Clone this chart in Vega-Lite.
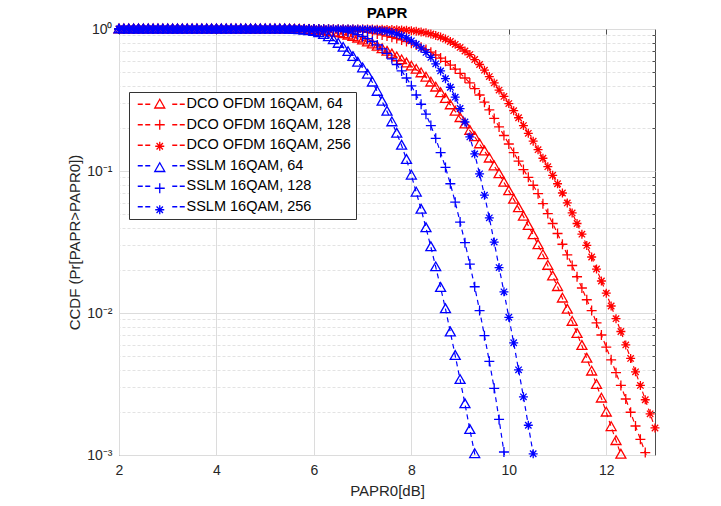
{
"$schema": "https://vega.github.io/schema/vega-lite/v6.json",
"width": 536, "height": 426,
"autosize": {"type": "none"},
"padding": {"left": 119, "top": 29, "right": 66, "bottom": 51},
"background": "white",
"config": {"view": {"stroke": "#4d4d4d", "strokeWidth": 1}},
"title": {"text": "PAPR", "font": "Liberation Sans", "fontSize": 15, "fontWeight": "bold", "color": "#000000", "offset": 0, "anchor": "middle"},
"data": {"values": [
{"s":"D64","x":2,"y":1},{"s":"D64","x":2.1,"y":1},{"s":"D64","x":2.2,"y":1},{"s":"D64","x":2.3,"y":1},{"s":"D64","x":2.4,"y":1},{"s":"D64","x":2.5,"y":1},{"s":"D64","x":2.6,"y":1},{"s":"D64","x":2.7,"y":1},{"s":"D64","x":2.8,"y":1},{"s":"D64","x":2.9,"y":1},
{"s":"D64","x":3,"y":1},{"s":"D64","x":3.1,"y":1},{"s":"D64","x":3.2,"y":1},{"s":"D64","x":3.3,"y":1},{"s":"D64","x":3.4,"y":1},{"s":"D64","x":3.5,"y":1},{"s":"D64","x":3.6,"y":1},{"s":"D64","x":3.7,"y":1},{"s":"D64","x":3.8,"y":1},{"s":"D64","x":3.9,"y":1},
{"s":"D64","x":4,"y":1},{"s":"D64","x":4.1,"y":1},{"s":"D64","x":4.2,"y":1},{"s":"D64","x":4.3,"y":1},{"s":"D64","x":4.4,"y":1},{"s":"D64","x":4.5,"y":1},{"s":"D64","x":4.6,"y":1},{"s":"D64","x":4.7,"y":1},{"s":"D64","x":4.8,"y":1},{"s":"D64","x":4.9,"y":1},
{"s":"D64","x":5,"y":1},{"s":"D64","x":5.1,"y":1},{"s":"D64","x":5.2,"y":1},{"s":"D64","x":5.3,"y":1},{"s":"D64","x":5.4,"y":1},{"s":"D64","x":5.5,"y":0.9977},{"s":"D64","x":5.6,"y":0.9954},{"s":"D64","x":5.7,"y":0.9931},{"s":"D64","x":5.8,"y":0.9908},{"s":"D64","x":5.9,"y":0.9886},
{"s":"D64","x":6,"y":0.984},{"s":"D64","x":6.1,"y":0.9772},{"s":"D64","x":6.2,"y":0.9705},{"s":"D64","x":6.3,"y":0.9616},{"s":"D64","x":6.4,"y":0.9506},{"s":"D64","x":6.5,"y":0.9376},{"s":"D64","x":6.6,"y":0.9226},{"s":"D64","x":6.7,"y":0.9036},{"s":"D64","x":6.8,"y":0.8831},{"s":"D64","x":6.9,"y":0.861},
{"s":"D64","x":7,"y":0.8356},{"s":"D64","x":7.1,"y":0.8091},{"s":"D64","x":7.2,"y":0.7816},{"s":"D64","x":7.3,"y":0.7534},{"s":"D64","x":7.4,"y":0.7244},{"s":"D64","x":7.5,"y":0.695},{"s":"D64","x":7.6,"y":0.6653},{"s":"D64","x":7.7,"y":0.6353},{"s":"D64","x":7.8,"y":0.6053},{"s":"D64","x":7.9,"y":0.5754},
{"s":"D64","x":8,"y":0.547},{"s":"D64","x":8.1,"y":0.5188},{"s":"D64","x":8.2,"y":0.4898},{"s":"D64","x":8.3,"y":0.4571},{"s":"D64","x":8.4,"y":0.4217},{"s":"D64","x":8.5,"y":0.389},{"s":"D64","x":8.6,"y":0.3548},{"s":"D64","x":8.7,"y":0.3236},{"s":"D64","x":8.8,"y":0.2917},{"s":"D64","x":8.9,"y":0.263},
{"s":"D64","x":9,"y":0.2371},{"s":"D64","x":9.1,"y":0.2138},{"s":"D64","x":9.2,"y":0.1928},{"s":"D64","x":9.3,"y":0.1738},{"s":"D64","x":9.4,"y":0.1549},{"s":"D64","x":9.5,"y":0.138},{"s":"D64","x":9.6,"y":0.123},{"s":"D64","x":9.7,"y":0.1084},{"s":"D64","x":9.8,"y":0.0955},{"s":"D64","x":9.9,"y":0.0832},
{"s":"D64","x":10,"y":0.0724},{"s":"D64","x":10.1,"y":0.0631},{"s":"D64","x":10.2,"y":0.055},{"s":"D64","x":10.3,"y":0.0479},{"s":"D64","x":10.4,"y":0.0412},{"s":"D64","x":10.5,"y":0.0355},{"s":"D64","x":10.6,"y":0.0302},{"s":"D64","x":10.7,"y":0.0257},{"s":"D64","x":10.8,"y":0.0216},{"s":"D64","x":10.9,"y":0.0182},
{"s":"D64","x":11,"y":0.0153},{"s":"D64","x":11.1,"y":0.0127},{"s":"D64","x":11.2,"y":0.0106},{"s":"D64","x":11.3,"y":0.00871},{"s":"D64","x":11.4,"y":0.00716},{"s":"D64","x":11.5,"y":0.00589},{"s":"D64","x":11.6,"y":0.00479},{"s":"D64","x":11.7,"y":0.00389},{"s":"D64","x":11.8,"y":0.00313},{"s":"D64","x":11.9,"y":0.00251},
{"s":"D64","x":12,"y":0.002},{"s":"D64","x":12.1,"y":0.00158},{"s":"D64","x":12.2,"y":0.00126},{"s":"D64","x":12.3,"y":0.00101},{"s":"D64","x":12.4,"y":0.00079},

{"s":"D128","x":2,"y":1},{"s":"D128","x":2.1,"y":1},{"s":"D128","x":2.2,"y":1},{"s":"D128","x":2.3,"y":1},{"s":"D128","x":2.4,"y":1},{"s":"D128","x":2.5,"y":1},{"s":"D128","x":2.6,"y":1},{"s":"D128","x":2.7,"y":1},{"s":"D128","x":2.8,"y":1},{"s":"D128","x":2.9,"y":1},
{"s":"D128","x":3,"y":1},{"s":"D128","x":3.1,"y":1},{"s":"D128","x":3.2,"y":1},{"s":"D128","x":3.3,"y":1},{"s":"D128","x":3.4,"y":1},{"s":"D128","x":3.5,"y":1},{"s":"D128","x":3.6,"y":1},{"s":"D128","x":3.7,"y":1},{"s":"D128","x":3.8,"y":1},{"s":"D128","x":3.9,"y":1},
{"s":"D128","x":4,"y":1},{"s":"D128","x":4.1,"y":1},{"s":"D128","x":4.2,"y":1},{"s":"D128","x":4.3,"y":1},{"s":"D128","x":4.4,"y":1},{"s":"D128","x":4.5,"y":1},{"s":"D128","x":4.6,"y":1},{"s":"D128","x":4.7,"y":1},{"s":"D128","x":4.8,"y":1},{"s":"D128","x":4.9,"y":1},
{"s":"D128","x":5,"y":1},{"s":"D128","x":5.1,"y":1},{"s":"D128","x":5.2,"y":1},{"s":"D128","x":5.3,"y":1},{"s":"D128","x":5.4,"y":1},{"s":"D128","x":5.5,"y":1},{"s":"D128","x":5.6,"y":1},{"s":"D128","x":5.7,"y":1},{"s":"D128","x":5.8,"y":1},{"s":"D128","x":5.9,"y":1},
{"s":"D128","x":6,"y":1},{"s":"D128","x":6.1,"y":1},{"s":"D128","x":6.2,"y":0.9977},{"s":"D128","x":6.3,"y":0.9954},{"s":"D128","x":6.4,"y":0.9931},{"s":"D128","x":6.5,"y":0.9908},{"s":"D128","x":6.6,"y":0.9863},{"s":"D128","x":6.7,"y":0.9817},{"s":"D128","x":6.8,"y":0.975},{"s":"D128","x":6.9,"y":0.9683},
{"s":"D128","x":7,"y":0.9594},{"s":"D128","x":7.1,"y":0.9484},{"s":"D128","x":7.2,"y":0.9354},{"s":"D128","x":7.3,"y":0.9226},{"s":"D128","x":7.4,"y":0.9078},{"s":"D128","x":7.5,"y":0.8913},{"s":"D128","x":7.6,"y":0.875},{"s":"D128","x":7.7,"y":0.857},{"s":"D128","x":7.8,"y":0.8375},{"s":"D128","x":7.9,"y":0.8166},
{"s":"D128","x":8,"y":0.7943},{"s":"D128","x":8.1,"y":0.7709},{"s":"D128","x":8.2,"y":0.7447},{"s":"D128","x":8.3,"y":0.7161},{"s":"D128","x":8.4,"y":0.6871},{"s":"D128","x":8.5,"y":0.6561},{"s":"D128","x":8.6,"y":0.6237},{"s":"D128","x":8.7,"y":0.5916},{"s":"D128","x":8.8,"y":0.5572},{"s":"D128","x":8.9,"y":0.5224},
{"s":"D128","x":9,"y":0.4875},{"s":"D128","x":9.1,"y":0.4519},{"s":"D128","x":9.2,"y":0.4169},{"s":"D128","x":9.3,"y":0.3802},{"s":"D128","x":9.4,"y":0.3428},{"s":"D128","x":9.5,"y":0.3055},{"s":"D128","x":9.6,"y":0.2692},{"s":"D128","x":9.7,"y":0.2344},{"s":"D128","x":9.8,"y":0.2042},{"s":"D128","x":9.9,"y":0.1778},
{"s":"D128","x":10,"y":0.1549},{"s":"D128","x":10.1,"y":0.1349},{"s":"D128","x":10.2,"y":0.1175},{"s":"D128","x":10.3,"y":0.1023},{"s":"D128","x":10.4,"y":0.0902},{"s":"D128","x":10.5,"y":0.0794},{"s":"D128","x":10.6,"y":0.0692},{"s":"D128","x":10.7,"y":0.0589},{"s":"D128","x":10.8,"y":0.0501},{"s":"D128","x":10.9,"y":0.0427},
{"s":"D128","x":11,"y":0.0363},{"s":"D128","x":11.1,"y":0.0305},{"s":"D128","x":11.2,"y":0.0257},{"s":"D128","x":11.3,"y":0.0216},{"s":"D128","x":11.4,"y":0.018},{"s":"D128","x":11.5,"y":0.015},{"s":"D128","x":11.6,"y":0.0124},{"s":"D128","x":11.7,"y":0.0104},{"s":"D128","x":11.8,"y":0.00851},{"s":"D128","x":11.9,"y":0.007},
{"s":"D128","x":12,"y":0.00575},{"s":"D128","x":12.1,"y":0.00468},{"s":"D128","x":12.2,"y":0.0038},{"s":"D128","x":12.3,"y":0.00309},{"s":"D128","x":12.4,"y":0.00248},{"s":"D128","x":12.5,"y":0.002},{"s":"D128","x":12.6,"y":0.0016},{"s":"D128","x":12.7,"y":0.00129},{"s":"D128","x":12.8,"y":0.00104},{"s":"D128","x":12.9,"y":0.00083},

{"s":"D256","x":2,"y":1},{"s":"D256","x":2.1,"y":1},{"s":"D256","x":2.2,"y":1},{"s":"D256","x":2.3,"y":1},{"s":"D256","x":2.4,"y":1},{"s":"D256","x":2.5,"y":1},{"s":"D256","x":2.6,"y":1},{"s":"D256","x":2.7,"y":1},{"s":"D256","x":2.8,"y":1},{"s":"D256","x":2.9,"y":1},
{"s":"D256","x":3,"y":1},{"s":"D256","x":3.1,"y":1},{"s":"D256","x":3.2,"y":1},{"s":"D256","x":3.3,"y":1},{"s":"D256","x":3.4,"y":1},{"s":"D256","x":3.5,"y":1},{"s":"D256","x":3.6,"y":1},{"s":"D256","x":3.7,"y":1},{"s":"D256","x":3.8,"y":1},{"s":"D256","x":3.9,"y":1},
{"s":"D256","x":4,"y":1},{"s":"D256","x":4.1,"y":1},{"s":"D256","x":4.2,"y":1},{"s":"D256","x":4.3,"y":1},{"s":"D256","x":4.4,"y":1},{"s":"D256","x":4.5,"y":1},{"s":"D256","x":4.6,"y":1},{"s":"D256","x":4.7,"y":1},{"s":"D256","x":4.8,"y":1},{"s":"D256","x":4.9,"y":1},
{"s":"D256","x":5,"y":1},{"s":"D256","x":5.1,"y":1},{"s":"D256","x":5.2,"y":1},{"s":"D256","x":5.3,"y":1},{"s":"D256","x":5.4,"y":1},{"s":"D256","x":5.5,"y":1},{"s":"D256","x":5.6,"y":1},{"s":"D256","x":5.7,"y":1},{"s":"D256","x":5.8,"y":1},{"s":"D256","x":5.9,"y":1},
{"s":"D256","x":6,"y":1},{"s":"D256","x":6.1,"y":1},{"s":"D256","x":6.2,"y":1},{"s":"D256","x":6.3,"y":1},{"s":"D256","x":6.4,"y":1},{"s":"D256","x":6.5,"y":1},{"s":"D256","x":6.6,"y":1},{"s":"D256","x":6.7,"y":1},{"s":"D256","x":6.8,"y":1},{"s":"D256","x":6.9,"y":1},
{"s":"D256","x":7,"y":1},{"s":"D256","x":7.1,"y":1},{"s":"D256","x":7.2,"y":1},{"s":"D256","x":7.3,"y":0.9977},{"s":"D256","x":7.4,"y":0.9954},{"s":"D256","x":7.5,"y":0.9931},{"s":"D256","x":7.6,"y":0.9908},{"s":"D256","x":7.7,"y":0.9886},{"s":"D256","x":7.8,"y":0.984},{"s":"D256","x":7.9,"y":0.9795},
{"s":"D256","x":8,"y":0.9727},{"s":"D256","x":8.1,"y":0.9638},{"s":"D256","x":8.2,"y":0.9528},{"s":"D256","x":8.3,"y":0.9397},{"s":"D256","x":8.4,"y":0.9226},{"s":"D256","x":8.5,"y":0.9016},{"s":"D256","x":8.6,"y":0.877},{"s":"D256","x":8.7,"y":0.8492},{"s":"D256","x":8.8,"y":0.8166},{"s":"D256","x":8.9,"y":0.7798},
{"s":"D256","x":9,"y":0.7413},{"s":"D256","x":9.1,"y":0.6998},{"s":"D256","x":9.2,"y":0.6607},{"s":"D256","x":9.3,"y":0.6095},{"s":"D256","x":9.4,"y":0.5623},{"s":"D256","x":9.5,"y":0.5129},{"s":"D256","x":9.6,"y":0.4624},{"s":"D256","x":9.7,"y":0.4169},{"s":"D256","x":9.8,"y":0.3715},{"s":"D256","x":9.9,"y":0.335},
{"s":"D256","x":10,"y":0.2985},{"s":"D256","x":10.1,"y":0.2661},{"s":"D256","x":10.2,"y":0.2371},{"s":"D256","x":10.3,"y":0.2089},{"s":"D256","x":10.4,"y":0.1841},{"s":"D256","x":10.5,"y":0.1622},{"s":"D256","x":10.6,"y":0.1413},{"s":"D256","x":10.7,"y":0.123},{"s":"D256","x":10.8,"y":0.1072},{"s":"D256","x":10.9,"y":0.0933},
{"s":"D256","x":11,"y":0.0813},{"s":"D256","x":11.1,"y":0.07},{"s":"D256","x":11.2,"y":0.0596},{"s":"D256","x":11.3,"y":0.0507},{"s":"D256","x":11.4,"y":0.0427},{"s":"D256","x":11.5,"y":0.0359},{"s":"D256","x":11.6,"y":0.0299},{"s":"D256","x":11.7,"y":0.0248},{"s":"D256","x":11.8,"y":0.0204},{"s":"D256","x":11.9,"y":0.0168},
{"s":"D256","x":12,"y":0.0138},{"s":"D256","x":12.1,"y":0.0112},{"s":"D256","x":12.2,"y":0.00912},{"s":"D256","x":12.3,"y":0.00741},{"s":"D256","x":12.4,"y":0.00596},{"s":"D256","x":12.5,"y":0.00479},{"s":"D256","x":12.6,"y":0.00385},{"s":"D256","x":12.7,"y":0.00309},{"s":"D256","x":12.8,"y":0.00245},{"s":"D256","x":12.9,"y":0.00195},
{"s":"D256","x":13,"y":0.00155},

{"s":"S64","x":2,"y":1},{"s":"S64","x":2.1,"y":1},{"s":"S64","x":2.2,"y":1},{"s":"S64","x":2.3,"y":1},{"s":"S64","x":2.4,"y":1},{"s":"S64","x":2.5,"y":1},{"s":"S64","x":2.6,"y":1},{"s":"S64","x":2.7,"y":1},{"s":"S64","x":2.8,"y":1},{"s":"S64","x":2.9,"y":1},
{"s":"S64","x":3,"y":1},{"s":"S64","x":3.1,"y":1},{"s":"S64","x":3.2,"y":1},{"s":"S64","x":3.3,"y":1},{"s":"S64","x":3.4,"y":1},{"s":"S64","x":3.5,"y":1},{"s":"S64","x":3.6,"y":1},{"s":"S64","x":3.7,"y":1},{"s":"S64","x":3.8,"y":1},{"s":"S64","x":3.9,"y":1},
{"s":"S64","x":4,"y":1},{"s":"S64","x":4.1,"y":1},{"s":"S64","x":4.2,"y":1},{"s":"S64","x":4.3,"y":1},{"s":"S64","x":4.4,"y":1},{"s":"S64","x":4.5,"y":1},{"s":"S64","x":4.6,"y":1},{"s":"S64","x":4.7,"y":1},{"s":"S64","x":4.8,"y":1},{"s":"S64","x":4.9,"y":1},
{"s":"S64","x":5,"y":1},{"s":"S64","x":5.1,"y":1},{"s":"S64","x":5.2,"y":1},{"s":"S64","x":5.3,"y":1},{"s":"S64","x":5.4,"y":1},{"s":"S64","x":5.5,"y":0.9931},{"s":"S64","x":5.6,"y":0.9908},{"s":"S64","x":5.7,"y":0.9863},{"s":"S64","x":5.8,"y":0.9795},{"s":"S64","x":5.9,"y":0.9705},
{"s":"S64","x":6,"y":0.9572},{"s":"S64","x":6.1,"y":0.9376},{"s":"S64","x":6.2,"y":0.912},{"s":"S64","x":6.3,"y":0.881},{"s":"S64","x":6.4,"y":0.8395},{"s":"S64","x":6.5,"y":0.7907},{"s":"S64","x":6.6,"y":0.7413},{"s":"S64","x":6.7,"y":0.6918},{"s":"S64","x":6.8,"y":0.6383},{"s":"S64","x":6.9,"y":0.5821},
{"s":"S64","x":7,"y":0.5309},{"s":"S64","x":7.1,"y":0.4786},{"s":"S64","x":7.2,"y":0.4217},{"s":"S64","x":7.3,"y":0.3631},{"s":"S64","x":7.4,"y":0.309},{"s":"S64","x":7.5,"y":0.263},{"s":"S64","x":7.6,"y":0.2213},{"s":"S64","x":7.7,"y":0.1841},{"s":"S64","x":7.8,"y":0.1514},{"s":"S64","x":7.9,"y":0.1202},
{"s":"S64","x":8,"y":0.0933},{"s":"S64","x":8.1,"y":0.0708},{"s":"S64","x":8.2,"y":0.0537},{"s":"S64","x":8.3,"y":0.0398},{"s":"S64","x":8.4,"y":0.0292},{"s":"S64","x":8.5,"y":0.0211},{"s":"S64","x":8.6,"y":0.0151},{"s":"S64","x":8.7,"y":0.0107},{"s":"S64","x":8.8,"y":0.00733},{"s":"S64","x":8.9,"y":0.00501},
{"s":"S64","x":9,"y":0.00339},{"s":"S64","x":9.1,"y":0.00229},{"s":"S64","x":9.2,"y":0.00151},{"s":"S64","x":9.3,"y":0.00102},{"s":"S64","x":9.4,"y":0.00068},

{"s":"S128","x":2,"y":1},{"s":"S128","x":2.1,"y":1},{"s":"S128","x":2.2,"y":1},{"s":"S128","x":2.3,"y":1},{"s":"S128","x":2.4,"y":1},{"s":"S128","x":2.5,"y":1},{"s":"S128","x":2.6,"y":1},{"s":"S128","x":2.7,"y":1},{"s":"S128","x":2.8,"y":1},{"s":"S128","x":2.9,"y":1},
{"s":"S128","x":3,"y":1},{"s":"S128","x":3.1,"y":1},{"s":"S128","x":3.2,"y":1},{"s":"S128","x":3.3,"y":1},{"s":"S128","x":3.4,"y":1},{"s":"S128","x":3.5,"y":1},{"s":"S128","x":3.6,"y":1},{"s":"S128","x":3.7,"y":1},{"s":"S128","x":3.8,"y":1},{"s":"S128","x":3.9,"y":1},
{"s":"S128","x":4,"y":1},{"s":"S128","x":4.1,"y":1},{"s":"S128","x":4.2,"y":1},{"s":"S128","x":4.3,"y":1},{"s":"S128","x":4.4,"y":1},{"s":"S128","x":4.5,"y":1},{"s":"S128","x":4.6,"y":1},{"s":"S128","x":4.7,"y":1},{"s":"S128","x":4.8,"y":1},{"s":"S128","x":4.9,"y":1},
{"s":"S128","x":5,"y":1},{"s":"S128","x":5.1,"y":1},{"s":"S128","x":5.2,"y":1},{"s":"S128","x":5.3,"y":1},{"s":"S128","x":5.4,"y":1},{"s":"S128","x":5.5,"y":1},{"s":"S128","x":5.6,"y":1},{"s":"S128","x":5.7,"y":1},{"s":"S128","x":5.8,"y":1},{"s":"S128","x":5.9,"y":1},
{"s":"S128","x":6,"y":1},{"s":"S128","x":6.1,"y":0.9954},{"s":"S128","x":6.2,"y":0.9931},{"s":"S128","x":6.3,"y":0.9886},{"s":"S128","x":6.4,"y":0.9817},{"s":"S128","x":6.5,"y":0.975},{"s":"S128","x":6.6,"y":0.9661},{"s":"S128","x":6.7,"y":0.9528},{"s":"S128","x":6.8,"y":0.9354},{"s":"S128","x":6.9,"y":0.9141},
{"s":"S128","x":7,"y":0.8872},{"s":"S128","x":7.1,"y":0.8551},{"s":"S128","x":7.2,"y":0.8166},{"s":"S128","x":7.3,"y":0.7727},{"s":"S128","x":7.4,"y":0.7244},{"s":"S128","x":7.5,"y":0.673},{"s":"S128","x":7.6,"y":0.6166},{"s":"S128","x":7.7,"y":0.5623},{"s":"S128","x":7.8,"y":0.507},{"s":"S128","x":7.9,"y":0.4519},
{"s":"S128","x":8,"y":0.3981},{"s":"S128","x":8.1,"y":0.3428},{"s":"S128","x":8.2,"y":0.2951},{"s":"S128","x":8.3,"y":0.2512},{"s":"S128","x":8.4,"y":0.2089},{"s":"S128","x":8.5,"y":0.1698},{"s":"S128","x":8.6,"y":0.1349},{"s":"S128","x":8.7,"y":0.1059},{"s":"S128","x":8.8,"y":0.0813},{"s":"S128","x":8.9,"y":0.0603},
{"s":"S128","x":9,"y":0.0437},{"s":"S128","x":9.1,"y":0.0313},{"s":"S128","x":9.2,"y":0.0221},{"s":"S128","x":9.3,"y":0.0153},{"s":"S128","x":9.4,"y":0.0104},{"s":"S128","x":9.5,"y":0.00692},{"s":"S128","x":9.6,"y":0.00457},{"s":"S128","x":9.7,"y":0.00295},{"s":"S128","x":9.8,"y":0.00178},{"s":"S128","x":9.9,"y":0.00105},
{"s":"S128","x":10,"y":0.00063},

{"s":"S256","x":2,"y":1},{"s":"S256","x":2.1,"y":1},{"s":"S256","x":2.2,"y":1},{"s":"S256","x":2.3,"y":1},{"s":"S256","x":2.4,"y":1},{"s":"S256","x":2.5,"y":1},{"s":"S256","x":2.6,"y":1},{"s":"S256","x":2.7,"y":1},{"s":"S256","x":2.8,"y":1},{"s":"S256","x":2.9,"y":1},
{"s":"S256","x":3,"y":1},{"s":"S256","x":3.1,"y":1},{"s":"S256","x":3.2,"y":1},{"s":"S256","x":3.3,"y":1},{"s":"S256","x":3.4,"y":1},{"s":"S256","x":3.5,"y":1},{"s":"S256","x":3.6,"y":1},{"s":"S256","x":3.7,"y":1},{"s":"S256","x":3.8,"y":1},{"s":"S256","x":3.9,"y":1},
{"s":"S256","x":4,"y":1},{"s":"S256","x":4.1,"y":1},{"s":"S256","x":4.2,"y":1},{"s":"S256","x":4.3,"y":1},{"s":"S256","x":4.4,"y":1},{"s":"S256","x":4.5,"y":1},{"s":"S256","x":4.6,"y":1},{"s":"S256","x":4.7,"y":1},{"s":"S256","x":4.8,"y":1},{"s":"S256","x":4.9,"y":1},
{"s":"S256","x":5,"y":1},{"s":"S256","x":5.1,"y":1},{"s":"S256","x":5.2,"y":1},{"s":"S256","x":5.3,"y":1},{"s":"S256","x":5.4,"y":1},{"s":"S256","x":5.5,"y":1},{"s":"S256","x":5.6,"y":1},{"s":"S256","x":5.7,"y":1},{"s":"S256","x":5.8,"y":1},{"s":"S256","x":5.9,"y":1},
{"s":"S256","x":6,"y":1},{"s":"S256","x":6.1,"y":1},{"s":"S256","x":6.2,"y":1},{"s":"S256","x":6.3,"y":1},{"s":"S256","x":6.4,"y":1},{"s":"S256","x":6.5,"y":1},{"s":"S256","x":6.6,"y":1},{"s":"S256","x":6.7,"y":1},{"s":"S256","x":6.8,"y":1},{"s":"S256","x":6.9,"y":0.9977},
{"s":"S256","x":7,"y":0.9954},{"s":"S256","x":7.1,"y":0.9931},{"s":"S256","x":7.2,"y":0.9886},{"s":"S256","x":7.3,"y":0.9817},{"s":"S256","x":7.4,"y":0.9727},{"s":"S256","x":7.5,"y":0.9616},{"s":"S256","x":7.6,"y":0.9462},{"s":"S256","x":7.7,"y":0.9247},{"s":"S256","x":7.8,"y":0.8974},{"s":"S256","x":7.9,"y":0.865},
{"s":"S256","x":8,"y":0.826},{"s":"S256","x":8.1,"y":0.7816},{"s":"S256","x":8.2,"y":0.7328},{"s":"S256","x":8.3,"y":0.6839},{"s":"S256","x":8.4,"y":0.631},{"s":"S256","x":8.5,"y":0.5689},{"s":"S256","x":8.6,"y":0.507},{"s":"S256","x":8.7,"y":0.4467},{"s":"S256","x":8.8,"y":0.389},{"s":"S256","x":8.9,"y":0.3311},
{"s":"S256","x":9,"y":0.2754},{"s":"S256","x":9.1,"y":0.2213},{"s":"S256","x":9.2,"y":0.1738},{"s":"S256","x":9.3,"y":0.1318},{"s":"S256","x":9.4,"y":0.0955},{"s":"S256","x":9.5,"y":0.0676},{"s":"S256","x":9.6,"y":0.0468},{"s":"S256","x":9.7,"y":0.0316},{"s":"S256","x":9.8,"y":0.0209},{"s":"S256","x":9.9,"y":0.0141},
{"s":"S256","x":10,"y":0.00933},{"s":"S256","x":10.1,"y":0.00617},{"s":"S256","x":10.2,"y":0.00398},{"s":"S256","x":10.3,"y":0.00257},{"s":"S256","x":10.4,"y":0.00162},{"s":"S256","x":10.5,"y":0.00102},{"s":"S256","x":10.6,"y":0.00063}
]},
"layer": [
{
"mark": {"type": "line", "strokeDash": [5, 4], "strokeWidth": 1.2, "clip": true},
"encoding": {
"x": {"field": "x", "type": "quantitative", "scale": {"domain": [2, 13], "nice": false, "zero": false},
 "axis": {"orient": "bottom", "values": [2, 4, 6, 8, 10, 12], "title": "PAPR0[dB]", "titleFont": "Liberation Sans", "titleFontSize": 15, "titleFontWeight": "normal", "titleColor": "#262626", "titlePadding": 6,
  "labelFont": "Liberation Sans", "labelFontSize": 14, "labelColor": "#262626", "labelPadding": 8, "labelFlush": false,
  "grid": true, "gridColor": "#dcdcdc", "gridWidth": 1, "domain": false, "ticks": false}},
"y": {"field": "y", "type": "quantitative", "scale": {"type": "log", "domain": [0.001, 1], "nice": false},
 "axis": {"orient": "left", "values": [0.001, 0.01, 0.1, 1], "labelExpr": "datum.value >= 0.5 ? '10⁰' : datum.value >= 0.05 ? '10⁻¹' : datum.value >= 0.005 ? '10⁻²' : '10⁻³'",
  "title": "CCDF (Pr[PAPR>PAPR0])", "titleFont": "Liberation Sans", "titleFontSize": 15, "titleFontWeight": "normal", "titleColor": "#262626", "titlePadding": 4,
  "labelFont": "Liberation Sans", "labelFontSize": 14, "labelColor": "#262626", "labelPadding": 7, "labelFlush": false,
  "grid": true, "gridColor": "#dcdcdc", "gridWidth": 1, "domain": false, "ticks": false}},
"stroke": {"field": "s", "type": "nominal",
 "scale": {"domain": ["D64", "D128", "D256", "S64", "S128", "S256"], "range": ["#ff0000", "#ff0000", "#ff0000", "#0000ff", "#0000ff", "#0000ff"]},
 "legend": {"title": null, "orient": "none", "legendX": 10, "legendY": 63, "direction": "vertical", "zindex": 1,
  "padding": 5, "strokeColor": "#333333", "fillColor": "white", "cornerRadius": 0,
  "labelFont": "Liberation Sans", "labelFontSize": 14.5, "labelColor": "#000000", "labelLimit": 400,
  "symbolType": "M-4.7,0L-3.7,0M-3.2,0L-2.2,0M2.2,0L3.2,0M3.7,0L4.7,0", "symbolSize": 100, "symbolStrokeWidth": 1.3, "symbolDash": [1, 0],
  "symbolOffset": 20, "labelOffset": 18, "rowPadding": 5.5,
  "labelExpr": "datum.value == 'D64' ? 'DCO OFDM 16QAM, 64' : datum.value == 'D128' ? 'DCO OFDM 16QAM, 128' : datum.value == 'D256' ? 'DCO OFDM 16QAM, 256' : datum.value == 'S64' ? 'SSLM 16QAM, 64' : datum.value == 'S128' ? 'SSLM 16QAM, 128' : 'SSLM 16QAM, 256'"}}
}
},
{
"transform": [{"filter": "datum.y >= 0.00099"}],
"mark": {"type": "point", "filled": false, "size": 100, "strokeWidth": 1.3, "opacity": 1},
"encoding": {
"x": {"field": "x", "type": "quantitative", "scale": {"domain": [2, 13], "nice": false, "zero": false},
 "axis": {"orient": "top", "values": [2, 4, 6, 8, 10, 12], "labels": false, "title": null, "grid": false, "domain": false, "ticks": true, "tickSize": -5, "tickColor": "#4d4d4d"}},
"y": {"field": "y", "type": "quantitative", "scale": {"type": "log", "domain": [0.001, 1], "nice": false},
 "axis": {"orient": "right", "values": [0.002, 0.003, 0.004, 0.005, 0.006, 0.007, 0.008, 0.009, 0.02, 0.03, 0.04, 0.05, 0.06, 0.07, 0.08, 0.09, 0.2, 0.3, 0.4, 0.5, 0.6, 0.7, 0.8, 0.9],
  "labels": false, "title": null, "grid": true, "gridColor": "#e3e3e3", "gridDash": [3, 2], "gridWidth": 1, "domain": false, "ticks": true, "tickSize": -3, "tickColor": "#4d4d4d"}},
"color": {"field": "s", "type": "nominal",
 "scale": {"domain": ["D64", "D128", "D256", "S64", "S128", "S256", "zz"], "range": ["#ff0000", "#ff0000", "#ff0000", "#0000ff", "#0000ff", "#0000ff", "transparent"]},
 "legend": {"title": null, "orient": "none", "legendX": 10, "legendY": 63, "direction": "vertical", "zindex": 2,
  "padding": 5, "strokeColor": "transparent", "fillColor": "transparent", "cornerRadius": 0,
  "labelFont": "Liberation Sans", "labelFontSize": 14.5, "labelExpr": "''",
  "symbolSize": 100, "symbolStrokeWidth": 1.3, "symbolOffset": 18.5, "labelOffset": 18, "rowPadding": 5.5}},
"shape": {"field": "s", "type": "nominal",
 "scale": {"domain": ["D64", "D128", "D256", "S64", "S128", "S256", "zz"],
  "range": ["M0,-1L1,0.75L-1,0.75Z", "M-1,0L1,0M0,-1L0,1", "M-0.9,0L0.9,0M0,-0.9L0,0.9M-0.64,-0.64L0.64,0.64M-0.64,0.64L0.64,-0.64", "M0,-1L1,0.75L-1,0.75Z", "M-1,0L1,0M0,-1L0,1", "M-0.9,0L0.9,0M0,-0.9L0,0.9M-0.64,-0.64L0.64,0.64M-0.64,0.64L0.64,-0.64", "M0,0"]},
 "legend": {"title": null, "orient": "none", "legendX": 10, "legendY": 63, "direction": "vertical", "zindex": 2,
  "padding": 5, "strokeColor": "transparent", "fillColor": "transparent", "cornerRadius": 0,
  "labelFont": "Liberation Sans", "labelFontSize": 14.5, "labelExpr": "''",
  "symbolSize": 100, "symbolStrokeWidth": 1.3, "symbolOffset": 18.5, "labelOffset": 18, "rowPadding": 5.5}}
}
}
],
"resolve": {"axis": {"x": "independent", "y": "independent"}}
}
